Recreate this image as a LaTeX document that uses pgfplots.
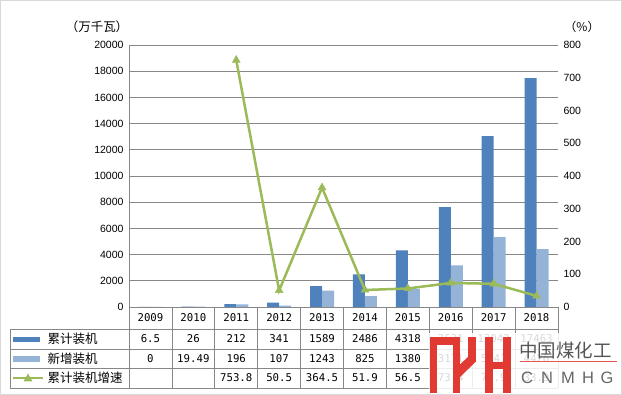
\documentclass[border=0pt]{standalone}
\usepackage{pgfplots}
\usepackage{pgfplotstable}
\pgfplotsset{compat=1.18}
\usepackage{fontspec}
\setmainfont{Liberation Sans}
\newfontfamily\cjk{Noto Sans CJK SC}
\newfontfamily\mono{DejaVu Sans Mono}
\definecolor{cumblue}{HTML}{4F81BD}
\definecolor{newblue}{HTML}{95B3D7}
\definecolor{growgreen}{HTML}{9BBB59}
\definecolor{gridgray}{HTML}{878787}
\definecolor{bordergray}{HTML}{D9D9D9}
\definecolor{logored}{HTML}{E03A32}
\definecolor{logogray}{HTML}{555555}

\pgfplotstableread{
i year cum new
0 2009 6.5 0
1 2010 26 19.49
2 2011 212 196
3 2012 341 107
4 2013 1589 1243
5 2014 2486 825
6 2015 4318 1380
7 2016 7631 3171
8 2017 13042 5341
9 2018 17463 4426
}\capdata
\pgfplotstableread{
i g
2 753.8
3 50.5
4 364.5
5 51.9
6 56.5
7 73.4
8 70.9
9 33.9
}\growdata

\begin{document}
\begin{tikzpicture}[x=1pt,y=1pt]
\path[use as bounding box] (0,0) rectangle (622,395);
\fill[white] (0,0) rectangle (622,395);
\draw[bordergray, line width=1.2pt] (0.6,0.6) rectangle (621.4,394.4);

\begin{axis}[
  at={(129pt,88pt)}, anchor=south west, scale only axis,
  width=429pt, height=262pt,
  xmin=-0.5, xmax=9.5, ymin=0, ymax=20000,
  ytick={0,2000,...,20000}, xtick=\empty,
  ymajorgrids, grid style={gridgray, line width=0.8pt},
  axis x line*=bottom, axis y line*=left,
  axis line style={gridgray, line width=0.8pt, -},
  tick style={draw=none},
  scaled y ticks=false,
  /pgf/number format/assume math mode=true,
  yticklabel style={font=\fontsize{10.5}{12}\selectfont, /pgf/number format/1000 sep={}, xshift=-2pt},
  ybar, bar width=12pt, clip=false]
\addplot[fill=cumblue, draw=none, bar shift=-6pt] table[x=i, y=cum]{\capdata};
\addplot[fill=newblue, draw=none, bar shift=6pt] table[x=i, y=new]{\capdata};
\end{axis}

\begin{axis}[
  at={(129pt,88pt)}, anchor=south west, scale only axis,
  width=429pt, height=262pt,
  xmin=-0.5, xmax=9.5, ymin=0, ymax=800,
  ytick={0,100,...,800}, xtick=\empty,
  axis x line=none, axis y line*=right,
  y axis line style={draw=none},
  tick style={draw=none},
  /pgf/number format/assume math mode=true,
  yticklabel style={font=\fontsize{10.5}{12}\selectfont, anchor=west, xshift=2pt},
  clip=false]
\addplot[color=growgreen, line width=2.5pt, mark=triangle*, mark size=4.5pt,
  mark options={fill=growgreen, line width=0.5pt}] table[x=i, y=g]{\growdata};
\end{axis}

% unit labels
\node[font=\cjk\fontsize{12.5}{14}\selectfont] at (97,368) {（万千瓦）};
\node[font=\cjk\fontsize{12}{14}\selectfont] at (582,368) {（\%）};

% data table grid
\begin{scope}[gridgray, line width=0.8pt]
\foreach \k in {0,...,10} \draw ({129+42.9*\k},88) -- ({129+42.9*\k},7);
\draw (10,66) -- (558,66);
\draw (10,46) -- (558,46);
\draw (10,27) -- (558,27);
\draw (10,7) -- (558,7);
\draw (10,66) -- (10,7);
\end{scope}

\foreach \v [count=\k from 0] in {2009,2010,2011,2012,2013,2014,2015,2016,2017,2018}
  \node[font=\mono\fontsize{10.7}{12}\selectfont] at ({129+42.9*(\k+0.5)},77) {\v};
\foreach \v [count=\k from 0] in {6.5,26,212,341,1589,2486,4318,7631,13042,17463}
  \node[font=\mono\fontsize{10.7}{12}\selectfont] at ({129+42.9*(\k+0.5)},56) {\v};
\foreach \v [count=\k from 0] in {0,19.49,196,107,1243,825,1380,3171,5341,4426}
  \node[font=\mono\fontsize{10.7}{12}\selectfont] at ({129+42.9*(\k+0.5)},36.5) {\v};
\foreach \v [count=\k from 2] in {753.8,50.5,364.5,51.9,56.5,73.4,70.9,33.9}
  \node[font=\mono\fontsize{10.7}{12}\selectfont] at ({129+42.9*(\k+0.5)},17) {\v};

% legend column
\fill[cumblue] (13,52.5) rectangle (40,58);
\fill[newblue] (13,33) rectangle (40,38.5);
\draw[growgreen, line width=2.5pt] (13,17) -- (43,17);
\fill[growgreen] (23.5,13.5) -- (32.5,13.5) -- (28,21.5) -- cycle;
\node[anchor=west, font=\cjk\fontsize{12.5}{14}\selectfont] at (44,56) {累计装机};
\node[anchor=west, font=\cjk\fontsize{12.5}{14}\selectfont] at (44,36.5) {新增装机};
\node[anchor=west, font=\cjk\fontsize{12.5}{14}\selectfont] at (44,17) {累计装机增速};

% logo watermark
\fill[white, opacity=0.85] (429,2) rectangle (620,62);
\begin{scope}[logored]
\fill (430,2) rectangle (436.5,58);
\fill (430,50) rectangle (460,58);
\fill (453,2) rectangle (460,52);
\fill (468,33) rectangle (475.5,58);
\fill (468,38) -- (475.5,33) -- (460,18) -- (453,24) -- cycle;
\fill (485,2) rectangle (493,58);
\fill (503,2) rectangle (511,58);
\fill (485,26) rectangle (511,33);
\end{scope}
\node[anchor=west, inner sep=0pt, text=logogray, font=\cjk\fontsize{18.5}{20}\selectfont] at (519,45) {中国煤化工};
\draw[logored!85!white, line width=1.3pt] (520,33.3) -- (617,33.3);
\foreach \c/\xx in {C/527,N/547,M/568,H/588,G/607}
  \node[text=logogray!90!white, font=\fontsize{16.5}{18}\selectfont] at (\xx,17.5) {\c};
\end{tikzpicture}
\end{document}
